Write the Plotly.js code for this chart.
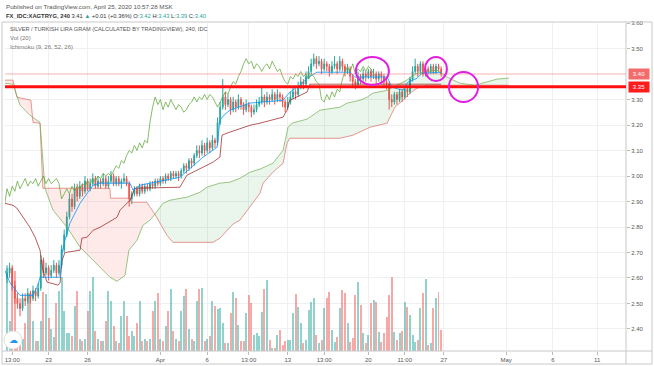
<!DOCTYPE html>
<html><head><meta charset="utf-8">
<script src="https://cdn.plot.ly/plotly-3.0.1.min.js"></script>
<style>html,body{margin:0;padding:0;background:#fff;}#chart{width:654px;height:366px;}</style>
</head><body><div id="chart"></div>
<script>
// ---- data (4H bars, XAGTRYG) ----
const opens = [
2.60,2.62,2.64,2.57,2.52,2.50,2.48,2.52,2.51,2.54,
2.52,2.55,2.53,2.56,2.67,2.62,2.64,2.61,2.63,2.65,
2.62,2.65,2.71,2.77,2.84,2.91,2.88,2.95,2.92,2.96,
2.94,2.98,2.95,2.97,2.99,2.96,2.98,2.97,2.99,2.96,
2.98,3.00,2.97,2.99,2.97,2.98,2.99,2.97,2.91,2.93,
2.95,2.93,2.96,2.94,2.96,2.95,2.97,2.96,2.98,2.97,
2.99,2.98,3.00,2.99,3.01,3.00,3.01,3.00,3.02,3.04,
3.03,3.06,3.05,3.08,3.10,3.09,3.12,3.10,3.13,3.11,
3.14,3.13,3.21,3.27,3.31,3.28,3.30,3.26,3.29,3.27,
3.30,3.28,3.26,3.28,3.27,3.25,3.26,3.28,3.29,3.31,
3.29,3.31,3.30,3.32,3.30,3.32,3.31,3.29,3.27,3.29,
3.31,3.33,3.32,3.35,3.37,3.36,3.39,3.41,3.44,3.46,
3.44,3.45,3.42,3.44,3.43,3.41,3.43,3.44,3.42,3.45,
3.43,3.41,3.42,3.39,3.37,3.36,3.39,3.38,3.40,3.39,
3.41,3.39,3.40,3.38,3.40,3.39,3.37,3.36,3.30,3.29,
3.32,3.30,3.33,3.31,3.34,3.33,3.38,3.41,3.43,3.41,
3.44,3.40,3.42,3.41,3.43,3.41,3.43,3.42];
const highs = [
2.65,2.66,2.65,2.59,2.54,2.52,2.54,2.54,2.56,2.55,
2.57,2.56,2.58,2.69,2.68,2.66,2.65,2.65,2.67,2.66,
2.67,2.73,2.79,2.86,2.93,2.93,2.97,2.97,2.98,2.97,
3.00,2.99,2.99,3.01,3.00,3.00,2.99,3.01,3.00,3.00,
3.02,3.01,3.00,3.00,2.99,3.01,3.00,2.98,2.94,2.96,
2.96,2.97,2.97,2.97,2.97,2.98,2.98,2.99,2.99,3.00,
3.00,3.01,3.01,3.02,3.02,3.02,3.02,3.03,3.05,3.05,
3.07,3.07,3.09,3.12,3.12,3.14,3.13,3.15,3.14,3.16,
3.15,3.23,3.29,3.38,3.33,3.32,3.31,3.31,3.30,3.32,
3.31,3.29,3.30,3.29,3.28,3.28,3.30,3.31,3.35,3.32,
3.33,3.32,3.34,3.33,3.34,3.33,3.32,3.30,3.31,3.33,
3.35,3.34,3.37,3.39,3.38,3.41,3.43,3.46,3.48,3.47,
3.47,3.46,3.46,3.45,3.44,3.45,3.47,3.45,3.47,3.46,
3.44,3.44,3.43,3.40,3.38,3.41,3.40,3.42,3.41,3.42,
3.42,3.42,3.41,3.41,3.41,3.40,3.38,3.37,3.32,3.33,
3.33,3.34,3.34,3.35,3.35,3.39,3.43,3.46,3.44,3.45,
3.45,3.43,3.43,3.44,3.44,3.44,3.44,3.43];
const lows = [
2.58,2.60,2.55,2.50,2.48,2.45,2.47,2.49,2.50,2.50,
2.51,2.51,2.52,2.55,2.60,2.61,2.59,2.60,2.62,2.60,
2.61,2.64,2.70,2.76,2.83,2.86,2.87,2.90,2.91,2.92,
2.93,2.94,2.94,2.96,2.95,2.95,2.95,2.96,2.95,2.95,
2.97,2.96,2.96,2.96,2.95,2.97,2.96,2.88,2.89,2.92,
2.92,2.92,2.93,2.93,2.94,2.94,2.95,2.95,2.96,2.96,
2.97,2.97,2.98,2.98,2.99,2.99,2.98,2.99,3.01,3.01,
3.02,3.03,3.04,3.07,3.07,3.08,3.08,3.09,3.09,3.10,
3.11,3.12,3.20,3.26,3.26,3.27,3.24,3.25,3.25,3.26,
3.26,3.24,3.25,3.25,3.23,3.24,3.25,3.27,3.28,3.27,
3.28,3.28,3.29,3.28,3.29,3.29,3.27,3.25,3.26,3.28,
3.30,3.30,3.31,3.34,3.34,3.35,3.38,3.40,3.43,3.42,
3.43,3.40,3.41,3.41,3.39,3.40,3.42,3.40,3.41,3.41,
3.39,3.40,3.37,3.35,3.34,3.35,3.36,3.37,3.37,3.38,
3.37,3.38,3.36,3.37,3.37,3.35,3.34,3.26,3.27,3.28,
3.28,3.29,3.29,3.30,3.31,3.32,3.37,3.40,3.39,3.40,
3.39,3.39,3.40,3.40,3.40,3.40,3.41,3.39];
const closes = [
2.62,2.64,2.57,2.52,2.50,2.48,2.52,2.51,2.54,2.52,
2.55,2.53,2.56,2.67,2.62,2.64,2.61,2.63,2.65,2.62,
2.65,2.71,2.77,2.84,2.91,2.88,2.95,2.92,2.96,2.94,
2.98,2.95,2.97,2.99,2.96,2.98,2.97,2.99,2.96,2.98,
3.00,2.97,2.99,2.97,2.98,2.99,2.97,2.91,2.93,2.95,
2.93,2.96,2.94,2.96,2.95,2.97,2.96,2.98,2.97,2.99,
2.98,3.00,2.99,3.01,3.00,3.01,3.00,3.02,3.04,3.03,
3.06,3.05,3.08,3.10,3.09,3.12,3.10,3.13,3.11,3.14,
3.13,3.21,3.27,3.31,3.28,3.30,3.26,3.29,3.27,3.30,
3.28,3.26,3.28,3.27,3.25,3.26,3.28,3.29,3.31,3.29,
3.31,3.30,3.32,3.30,3.32,3.31,3.29,3.27,3.29,3.31,
3.33,3.32,3.35,3.37,3.36,3.39,3.41,3.44,3.46,3.44,
3.45,3.42,3.44,3.43,3.41,3.43,3.44,3.42,3.45,3.43,
3.41,3.42,3.39,3.37,3.36,3.39,3.38,3.40,3.39,3.41,
3.39,3.40,3.38,3.40,3.39,3.37,3.36,3.30,3.29,3.32,
3.30,3.33,3.31,3.34,3.33,3.38,3.41,3.43,3.41,3.44,
3.40,3.42,3.41,3.43,3.41,3.43,3.42,3.40];
const volumes = [
83,30,82,80,10,10,12,28,50,57,
30,10,10,30,59,57,33,22,14,48,
60,74,40,18,18,15,45,60,12,10,
12,40,60,74,20,12,10,10,30,60,
50,25,10,8,35,50,35,15,20,15,
28,50,10,12,10,12,40,50,58,12,
10,25,40,62,20,12,10,40,55,62,
22,12,10,50,62,63,10,12,15,50,
45,42,43,28,8,8,
38,59,53,26,10,10,38,56,48,16,
18,15,39,62,71,11,3,3,16,21,
6,10,11,11,38,57,44,28,8,11,41,
49,53,16,8,11,43,53,59,21,9,
14,43,61,58,28,9,13,56,69,46,
18,8,16,48,51,49,19,9,18,34,
56,74,19,11,18,20,49,44,36,16,9,
11,43,58,72,6,8,43,53,59,21];

// time-axis labels (bar index where each label sits)
const tickIdx = [2,16,31,59,77,93,108,122,139,153,168,192,210,227];
const tickLabels = ['13:00','23','26','Apr','6','13:00','13','13:00','20','11:00','27','May','6','11'];
// price-scale labels (3.40 is covered by the last-price label)
const priceTicks = [2.40,2.50,2.60,2.70,2.80,2.90,3.00,3.10,3.20,3.30,3.50,3.60];

// Ichimoku (9, 26, 52, 26) lines: [bar index], [price]
const tenkanIdx = [-0.8,1.2,5,10,11.9,12.7,20.4,21.2,22.3,23.1,24.2,28.1,30.8,33.1,35.8,47.3,48.5,51.2,66.5,70.4,75.4,79.2,80.8,81.9,83.8,85.8,93.5,106.2,108.8,112.7,115.4,119.2,131.9,133.8,146.2,148.1,152.3,154.2,157.7,159.6,167];
const tenkanVal = [2.63,2.58,2.532,2.532,2.572,2.603,2.603,2.70,2.748,2.776,2.815,2.893,2.932,2.964,2.972,2.972,2.944,2.964,2.995,3.03,3.074,3.101,3.113,3.219,3.242,3.258,3.286,3.297,3.329,3.356,3.383,3.407,3.407,3.388,3.388,3.348,3.336,3.368,3.383,3.403,3.407];
const kijunIdx = [-0.8,2.3,3.8,6.2,8.8,10.8,12.7,13.8,15.4,19.6,20.4,21.2,22.3,28.1,28.8,30.8,33.1,35.8,38.5,40.8,42.3,43.5,47.3,49.2,66.5,69.2,73.1,75.4,79.2,81.9,82.7,84.6,93.5,97.3,106.2,107.7,108.8,115.4,116.5,167];
const kijunVal = [2.893,2.885,2.874,2.838,2.799,2.76,2.709,2.631,2.584,2.572,2.58,2.67,2.70,2.709,2.756,2.76,2.787,2.799,2.815,2.827,2.838,2.866,2.905,2.952,2.956,3.003,3.023,3.035,3.054,3.074,3.16,3.168,3.199,3.207,3.231,3.258,3.297,3.329,3.36,3.36];
const spanAIdx = [-1.2,2.3,5,8.8,12.7,14.6,17.7,23.1,28.1,33.1,39.6,42.3,45.4,46.9,50,52.3,55,56.9,60,62.7,69.2,74.2,76.9,81.9,85.8,89.6,93.5,97.3,102.3,106.2,108.1,109.6,115.4,120.4,123.1,128.1,130.8,135.8,138.5,140.8,146.2,148.5,153.8,157.7,165.4,169.2,174.2,180,184.6,188.5,193];
const spanAVal = [3.364,3.36,3.278,3.238,3.21,2.952,2.866,2.799,2.721,2.67,2.603,2.587,2.61,2.709,2.748,2.807,2.827,2.85,2.893,2.905,2.917,2.936,2.956,2.972,2.976,2.991,3.015,3.027,3.05,3.101,3.191,3.207,3.223,3.258,3.262,3.27,3.286,3.297,3.309,3.325,3.336,3.348,3.376,3.403,3.415,3.388,3.364,3.356,3.368,3.38,3.384];
const spanBIdx = [-1.2,2.3,3.8,9.2,10,12.7,13.8,39.6,39.8,47.3,47.7,53.8,55,56.9,58.8,61.5,63.8,79.2,81.9,84.6,86.9,89.6,93.5,97.3,98.5,102.3,106.2,107.7,108.8,128.1,133.1,139.6,146.2,149.2,152.3,155,157.7,161.5,193];
const spanBVal = [3.376,3.376,3.309,3.297,3.21,3.207,2.952,2.952,2.913,2.913,2.897,2.897,2.878,2.85,2.815,2.768,2.74,2.74,2.756,2.787,2.811,2.827,2.878,2.932,2.972,3.015,3.05,3.129,3.148,3.148,3.16,3.191,3.207,3.27,3.297,3.325,3.344,3.356,3.356];
const cloudCross = 56.9;     // bar where the cloud turns from red to green
const chikouShift = 26;

// horizontal levels
const resistance = 3.35;
const lastPrice = 3.40;

// hand-drawn circles: [x0, x1] bar index, [y0, y1] price
const circles = [[134.2,146.9,3.357,3.467],[160.8,169.2,3.373,3.467],[170,181.2,3.29,3.408]];

// ---- build ----
const bars = closes.map((_, i) => i);
const TEAL = '#26a69a', RED = '#ef5350';
const volColors = closes.map((c, i) => c >= opens[i] ? 'rgba(38,166,154,0.5)' : 'rgba(239,83,80,0.5)');

function part(idx, val, test) {
  const x = [], y = [];
  idx.forEach((v, i) => { if (test(v)) { x.push(v); y.push(val[i]); } });
  return {x, y};
}
const aRed = part(spanAIdx, spanAVal, v => v <= cloudCross);
const bRed = part(spanBIdx, spanBVal, v => v <= cloudCross);
const aGreen = part(spanAIdx, spanAVal, v => v >= cloudCross);
const bGreen = part(spanBIdx, spanBVal, v => v >= cloudCross);

const spanALine = 'rgba(110,175,80,0.7)';
const spanBLine = 'rgba(220,110,100,0.7)';

const traces = [
  {type:'bar', x:bars, y:volumes, marker:{color:volColors, line:{width:0}}, width:0.72, yaxis:'y', hoverinfo:'skip'},
  {type:'scatter', mode:'lines', x:bRed.x, y:bRed.y, yaxis:'y2', line:{color:spanBLine, width:1}},
  {type:'scatter', mode:'lines', x:aRed.x, y:aRed.y, yaxis:'y2', line:{color:spanALine, width:1}, fill:'tonexty', fillcolor:'rgba(244,67,54,0.11)'},
  {type:'scatter', mode:'lines', x:bGreen.x, y:bGreen.y, yaxis:'y2', line:{color:spanBLine, width:1}},
  {type:'scatter', mode:'lines', x:aGreen.x, y:aGreen.y, yaxis:'y2', line:{color:spanALine, width:1}, fill:'tonexty', fillcolor:'rgba(67,160,71,0.11)'},
  {type:'scatter', mode:'lines', x:kijunIdx, y:kijunVal, yaxis:'y2', line:{color:'rgba(153,21,21,0.7)', width:1}},
  {type:'scatter', mode:'lines', x:tenkanIdx, y:tenkanVal, yaxis:'y2', line:{color:'rgba(4,150,255,0.8)', width:1}},
  {type:'scatter', mode:'lines', x:bars.map(i => i - chikouShift), y:closes, yaxis:'y2', line:{color:'rgba(95,165,55,0.75)', width:1}},
  {type:'candlestick', x:bars, open:opens, high:highs, low:lows, close:closes, yaxis:'y2', whiskerwidth:0,
   increasing:{line:{color:TEAL, width:1}, fillcolor:TEAL},
   decreasing:{line:{color:RED, width:1}, fillcolor:RED}}
];

const W = 621, H = 328, L = 5, T = 23;
const px = v => (v - L) / W;
const py = v => (T + H - v) / H;
const FONT = 'Liberation Sans, Arial, sans-serif';

const shapes = [
  {type:'rect', xref:'paper', yref:'paper', x0:px(2), x1:px(652), y0:py(364), y1:py(22), line:{color:'#c8c8c8', width:1}, layer:'above'},
  {type:'line', xref:'paper', yref:'paper', x0:1, x1:1, y0:py(364), y1:py(22), line:{color:'#c8c8c8', width:1}},
  {type:'line', xref:'paper', yref:'paper', x0:px(2), x1:px(652), y0:0, y1:0, line:{color:'#c8c8c8', width:1}},
  {type:'line', xref:'paper', yref:'y2', x0:0, x1:1, y0:lastPrice, y1:lastPrice, line:{color:'rgba(239,83,80,0.45)', width:1}},
  {type:'line', xref:'paper', yref:'y2', x0:0, x1:1, y0:resistance, y1:resistance, line:{color:'#ff1010', width:3}},
  {type:'circle', xref:'paper', yref:'paper', x0:px(4), x1:px(22), y0:py(349), y1:py(331), fillcolor:'#ffffff', line:{color:'#e0e0e0', width:1}}
];
circles.forEach(c => shapes.push({type:'circle', xref:'x', yref:'y2', x0:c[0], x1:c[1], y0:c[2], y1:c[3], line:{color:'#e11fe0', width:2}}));

const tealSpan = s => `<span style="color:${TEAL}">${s}</span>`;
const annotations = [
  {xref:'paper', yref:'paper', x:px(4), y:py(6), xanchor:'left', yanchor:'middle', showarrow:false,
   text:'Published on TradingView.com, April 25, 2020 10:57:28 MSK', font:{family:FONT, size:6.2, color:'#555'}},
  {xref:'paper', yref:'paper', x:px(4), y:py(16), xanchor:'left', yanchor:'middle', showarrow:false,
   text:'<b>FX_IDC:XAGTRYG, 240</b> 3.41 ' + tealSpan('▲') + ' +0.01 (+0.36%) O:' + tealSpan(opens[opens.length-1].toFixed(2)) +
        ' H:' + tealSpan(highs[highs.length-1].toFixed(2)) + ' L:' + tealSpan(lows[lows.length-1].toFixed(2)) +
        ' C:' + tealSpan(closes[closes.length-1].toFixed(2)),
   font:{family:FONT, size:5.8, color:'#333'}},
  {xref:'paper', yref:'paper', x:px(8), y:py(29), xanchor:'left', yanchor:'middle', showarrow:false,
   text:'SILVER / TURKISH LIRA GRAM (CALCULATED BY TRADINGVIEW), 240, IDC', font:{family:FONT, size:5.6, color:'#555'}},
  {xref:'paper', yref:'paper', x:px(8), y:py(38), xanchor:'left', yanchor:'middle', showarrow:false,
   text:'Vol (20)', font:{family:FONT, size:6, color:'#777'}},
  {xref:'paper', yref:'paper', x:px(8), y:py(47), xanchor:'left', yanchor:'middle', showarrow:false,
   text:'Ichimoku (9, 26, 52, 26)', font:{family:FONT, size:6, color:'#777'}},
  {xref:'paper', yref:'y2', x:px(628), y:lastPrice, xanchor:'left', yanchor:'middle', showarrow:false,
   text:lastPrice.toFixed(2), bgcolor:'#f36b6b', width:20, height:10, borderpad:0, font:{family:FONT, size:6, color:'#fff'}},
  {xref:'paper', yref:'y2', x:px(628), y:resistance, xanchor:'left', yanchor:'middle', showarrow:false,
   text:resistance.toFixed(2), bgcolor:'#ff1c1c', width:20, height:10, borderpad:0, font:{family:FONT, size:6, color:'#fff'}},
  {xref:'paper', yref:'paper', x:px(13), y:py(340), xanchor:'center', yanchor:'middle', showarrow:false,
   text:'☁', font:{family:'DejaVu Sans', size:9, color:'#2196f3'}}
];

const layout = {
  width:654, height:366,
  margin:{l:L, r:654 - L - W, t:T, b:366 - T - H, pad:0},
  paper_bgcolor:'#ffffff', plot_bgcolor:'#ffffff',
  showlegend:false, hovermode:false, bargap:0, boxgap:0.55,
  font:{family:FONT, size:6, color:'#555'},
  xaxis:{range:[-0.77, 238.1], tickmode:'array', tickvals:tickIdx, ticktext:tickLabels,
         showgrid:true, gridcolor:'#eef0f4', gridwidth:1, zeroline:false, showline:false,
         ticks:'outside', ticklen:3, tickcolor:'#bbb', tickfont:{family:FONT, size:6, color:'#555'},
         rangeslider:{visible:false}, fixedrange:true},
  yaxis:{range:[0, 328], visible:false, showgrid:false, zeroline:false, fixedrange:true},
  yaxis2:{range:[2.3137, 3.60], overlaying:'y', side:'right', tickmode:'array', tickvals:priceTicks,
          ticktext:priceTicks.map(v => v.toFixed(2)),
          showgrid:true, gridcolor:'#eef0f4', gridwidth:1, zeroline:false, showline:false,
          ticks:'outside', ticklen:3, tickcolor:'#bbb', tickfont:{family:FONT, size:6, color:'#555'}, fixedrange:true},
  shapes:shapes, annotations:annotations
};

Plotly.newPlot('chart', traces, layout, {staticPlot:true, displayModeBar:false});
</script>
</body></html>
